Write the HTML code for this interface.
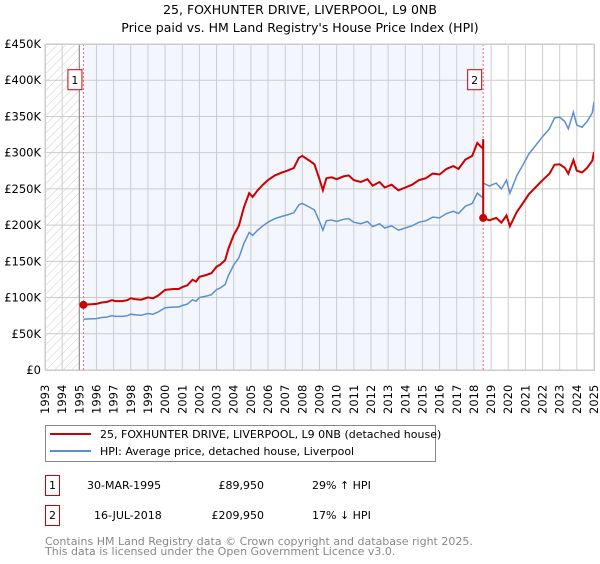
<!DOCTYPE html>
<html><head><meta charset="utf-8"><style>
body{margin:0;background:#fff;width:600px;height:560px;overflow:hidden;font-family:"DejaVu Sans","Liberation Sans",sans-serif;}
svg text{font-family:"DejaVu Sans","Liberation Sans",sans-serif;}
</style></head><body>
<svg id="chart" width="600" height="560" viewBox="0 0 600 560" xmlns="http://www.w3.org/2000/svg">
<defs><pattern id="hatch" width="6" height="6" patternUnits="userSpaceOnUse" patternTransform="rotate(45)"><line x1="0" y1="0" x2="0" y2="6" stroke="#ccc" stroke-width="1"/></pattern></defs>
<text x="300" y="14" text-anchor="middle" font-size="12.5" fill="#000">25, FOXHUNTER DRIVE, LIVERPOOL, L9 0NB</text>
<text x="300" y="32" text-anchor="middle" font-size="12.5" fill="#000">Price paid vs. HM Land Registry's House Price Index (HPI)</text>
<g id="plot"></g>
<g>
<rect x="45.5" y="425.5" width="390" height="36" fill="#fff" stroke="#888"/>
<line x1="50" y1="434" x2="91" y2="434" stroke="#cc0000" stroke-width="2"/>
<text x="100" y="438" font-size="11">25, FOXHUNTER DRIVE, LIVERPOOL, L9 0NB (detached house)</text>
<line x1="50" y1="451" x2="91" y2="451" stroke="#5b8fd0" stroke-width="2"/>
<text x="100" y="455" font-size="11">HPI: Average price, detached house, Liverpool</text>
</g>
<g font-size="11">
<rect x="45.5" y="475.5" width="14" height="20" fill="#fff" stroke="#cc0000"/>
<text x="52.5" y="489" text-anchor="middle">1</text>
<text x="87" y="489">30-MAR-1995</text>
<text x="264" y="489" text-anchor="end">£89,950</text>
<text x="312" y="489">29% ↑ HPI</text>
<rect x="45.5" y="505.5" width="14" height="20" fill="#fff" stroke="#cc0000"/>
<text x="52.5" y="519" text-anchor="middle">2</text>
<text x="94" y="519">16-JUL-2018</text>
<text x="264" y="519" text-anchor="end">£209,950</text>
<text x="312" y="519">17% ↓ HPI</text>
</g>
<text x="45" y="545" font-size="11" fill="#888">Contains HM Land Registry data © Crown copyright and database right 2025.</text>
<text x="45" y="555" font-size="11" fill="#888">This data is licensed under the Open Government Licence v3.0.</text>
</svg>
<script>
const hpiYears=[1995.24,1995.6,1996,1996.3,1996.6,1996.9,1997.1,1997.5,1997.8,1998,1998.3,1998.6,1999,1999.3,1999.6,2000,2000.5,2000.8,2001,2001.3,2001.6,2001.8,2002,2002.4,2002.7,2003,2003.2,2003.5,2003.7,2004,2004.3,2004.6,2004.9,2005.1,2005.4,2005.7,2006,2006.4,2006.8,2007.1,2007.5,2007.8,2008,2008.4,2008.7,2009,2009.2,2009.4,2009.7,2010,2010.4,2010.7,2011,2011.4,2011.8,2012.1,2012.5,2012.8,2013.2,2013.6,2014,2014.4,2014.8,2015.2,2015.6,2016,2016.4,2016.8,2017.1,2017.5,2017.9,2018.2,2018.4,2018.53,2018.55,2018.9,2019.3,2019.6,2019.9,2020.1,2020.5,2020.9,2021.2,2021.6,2022,2022.4,2022.7,2023,2023.3,2023.5,2023.8,2024,2024.3,2024.6,2024.9,2025];
const hpiValues=[70,70.5,71,72.5,73,75,74,74,75,77,76,75.5,78,77,80,86,87,87,89,91,97,95,100,102,104,111,113,118,131,145,155,175,190,186,193,199,204,209,212,214,217,228,230,225,221,205,193,206,207,205,208,209,204,202,205,198,202,196,199,193,196,199,204,206,211,210,216,219,216,226,230,244,240,238,258,254,258,250,262,244,268,285,298,310,322,333,348,349,343,333,356,338,335,343,355,370];
const saleYears=[1995.24,2018.54];
const salePrices=[89.95,209.95];
const yTicks=[0,50,100,150,200,250,300,350,400,450];
const yTickLabels=["£0","£50K","£100K","£150K","£200K","£250K","£300K","£350K","£400K","£450K"];
const xYears=[1993,1994,1995,1996,1997,1998,1999,2000,2001,2002,2003,2004,2005,2006,2007,2008,2009,2010,2011,2012,2013,2014,2015,2016,2017,2018,2019,2020,2021,2022,2023,2024,2025];

const L=45,R=594,T=44,B=370;
const X=y=>L+(y-1993)*(R-L)/32;
const Y=v=>B-v*(B-T)/450;
const NS="http://www.w3.org/2000/svg";
const g=document.getElementById('plot');
function mk(tag,attrs,parent){const e=document.createElementNS(NS,tag);for(const k in attrs)e.setAttribute(k,attrs[k]);(parent||g).appendChild(e);return e;}

let e;
e=mk('rect',{x:L,y:T,width:R-L,height:B-T,fill:'#fff'});


e=mk('rect',{x:X(saleYears[0]),y:T,width:X(saleYears[1])-X(saleYears[0]),height:B-T,fill:'#f3f6fd'});


e=mk('rect',{x:L,y:T,width:X(1995)-L,height:B-T,fill:'url(#hatch)'});


yTicks.forEach((v,i)=>{
  e=mk('line',{x1:L,x2:R,y1:Y(v),y2:Y(v),stroke:'#ccc','stroke-width':1});
  
  
  e=mk('text',{x:L-4,y:Y(v)+4,'text-anchor':'end','font-size':'11.5',fill:'#000'});
  e.textContent=yTickLabels[i];
  
  
});
xYears.forEach(yr=>{
  e=mk('line',{x1:X(yr),x2:X(yr),y1:T,y2:B,stroke:'#ccc','stroke-width':1});
  
  
  e=mk('text',{x:0,y:0,'font-size':'11.5',fill:'#000',transform:`translate(${X(yr)+4},${B+44}) rotate(-90)`});
  e.textContent=yr;
  
  
});
e=mk('line',{x1:X(1995),x2:X(1995),y1:T,y2:B,stroke:'#888','stroke-width':1});


saleYears.forEach((sy,i)=>{
  e=mk('line',{x1:X(sy),x2:X(sy),y1:T,y2:B,stroke:'#f66','stroke-width':1,'stroke-dasharray':'2,2'});
  
  
});
let pts=hpiYears.map((y,i)=>X(y).toFixed(1)+','+Y(hpiValues[i]).toFixed(1)).join(' ');
e=mk('polyline',{points:pts,fill:'none',stroke:'#5b8fd0','stroke-width':1.5});


function hpiAt(t){for(let i=0;i<hpiYears.length-1;i++){if(t>=hpiYears[i]&&t<=hpiYears[i+1]){const f=(t-hpiYears[i])/(hpiYears[i+1]-hpiYears[i]);return hpiValues[i]+f*(hpiValues[i+1]-hpiValues[i]);}}return hpiValues[hpiValues.length-1];}
const r1=salePrices[0]/hpiAt(saleYears[0]);
const r2=salePrices[1]/hpiValues[hpiYears.findIndex(y=>y>saleYears[1])];
let rp=[];
hpiYears.forEach((y,i)=>{if(y<saleYears[1])rp.push([X(y),Y(hpiValues[i]*r1)]);});
rp.push([X(saleYears[1]),Y(hpiAt(saleYears[1])*r1)]);
rp.push([X(saleYears[1]),Y(salePrices[1])]);
hpiYears.forEach((y,i)=>{if(y>saleYears[1])rp.push([X(y),Y(hpiValues[i]*r2)]);});
e=mk('polyline',{points:rp.map(p=>p[0].toFixed(1)+','+p[1].toFixed(1)).join(' '),fill:'none',stroke:'#cc0000','stroke-width':2});


saleYears.forEach((sy,i)=>{
  e=mk('circle',{cx:X(sy),cy:Y(salePrices[i]),r:4,fill:'#cc0000'});
  
  
  const bx=X(sy)-15;
  e=mk('rect',{x:bx-0.5,y:Y(400)-10.5,width:14,height:20,fill:'#fff',stroke:'#cc0000'});
  
  
  e=mk('text',{x:bx+6.5,y:Y(400)+4,'text-anchor':'middle','font-size':'11'});
  e.textContent=String(i+1);
  
  
});
e=mk('rect',{x:L+0.5,y:T+0.5,width:R-L,height:B-T,fill:'none',stroke:'#ccc'});


</script>
</body></html>
